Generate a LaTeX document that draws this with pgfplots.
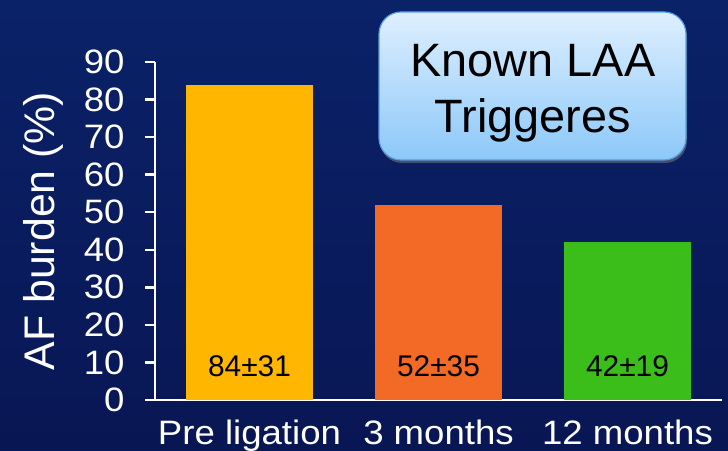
\documentclass[border=0pt]{standalone}
\usepackage{fontspec}
\setmainfont{Liberation Sans}
\newfontfamily\widesans[FakeStretch=1.08]{Liberation Sans}
\usepackage{pgfplots}
\pgfplotsset{compat=1.18}
\usetikzlibrary{shadows}

\definecolor{bgtop}{RGB}{10,34,104}
\definecolor{bgbot}{RGB}{9,22,84}
\definecolor{barA}{RGB}{255,182,0}
\definecolor{barB}{RGB}{243,106,39}
\definecolor{barC}{RGB}{59,189,26}
\definecolor{boxtop}{RGB}{222,239,255}
\definecolor{boxbot}{RGB}{140,200,248}
\definecolor{boxline}{RGB}{90,155,225}

\begin{document}
\begin{tikzpicture}[x=1bp,y=1bp]
\shade[top color=bgtop,bottom color=bgbot] (0,0) rectangle (728,451);
\useasboundingbox (0,0) rectangle (728,451);
\begin{axis}[
    at={(155bp,51bp)}, anchor=south west,
    width=567bp, height=338bp, scale only axis,
    xmin=-0.5, xmax=2.5, ymin=0, ymax=90,
    xtick={0,1,2},
    xticklabels={Pre ligation, 3 months, 12 months},
    ytick={0,10,...,90},
    axis x line=bottom, axis y line=left,
    axis line style={white, line width=2.8bp, -},
    x axis line style={shorten <=-10bp},
    tick align=outside,
    major tick length=10bp,
    ytick style={white, line width=2.5bp},
    xtick style={draw=none},
    ybar, bar width=0.667, bar shift=0pt,
    /pgf/number format/assume math mode=true,
    ticklabel style={white, font=\widesans\fontsize{34}{34}\selectfont},
    yticklabel style={xshift=-17bp},
    xticklabel style={yshift=-6bp},
    ylabel={AF burden (\%)},
    every axis y label/.style={at={(axis description cs:-0.1975,0.5)}, rotate=90, anchor=center, white, font=\fontsize{43}{43}\selectfont},
]
\addplot[fill=barA, draw=none] coordinates {(0,84)};
\addplot[fill=barB, draw=none] coordinates {(1,52)};
\addplot[fill=barC, draw=none] coordinates {(2,42)};
\node[font=\fontsize{30}{30}\selectfont] at (axis cs:0,9) {84±31};
\node[font=\fontsize{30}{30}\selectfont] at (axis cs:1,9) {52±35};
\node[font=\fontsize{30}{30}\selectfont] at (axis cs:2,9) {42±19};
\end{axis}
\draw[boxline, line width=1.2bp, rounded corners=22bp, top color=boxtop, bottom color=boxbot,
      drop shadow={opacity=0.5, shadow xshift=1bp, shadow yshift=-3bp}]
  (379,291) rectangle (686,439);
\node[anchor=base, font=\fontsize{47}{47}\selectfont, inner sep=0pt] at (533,374) {Known LAA};
\node[anchor=base, font=\fontsize{47}{47}\selectfont, inner sep=0pt] at (533,318) {Triggeres};
\end{tikzpicture}
\end{document}
